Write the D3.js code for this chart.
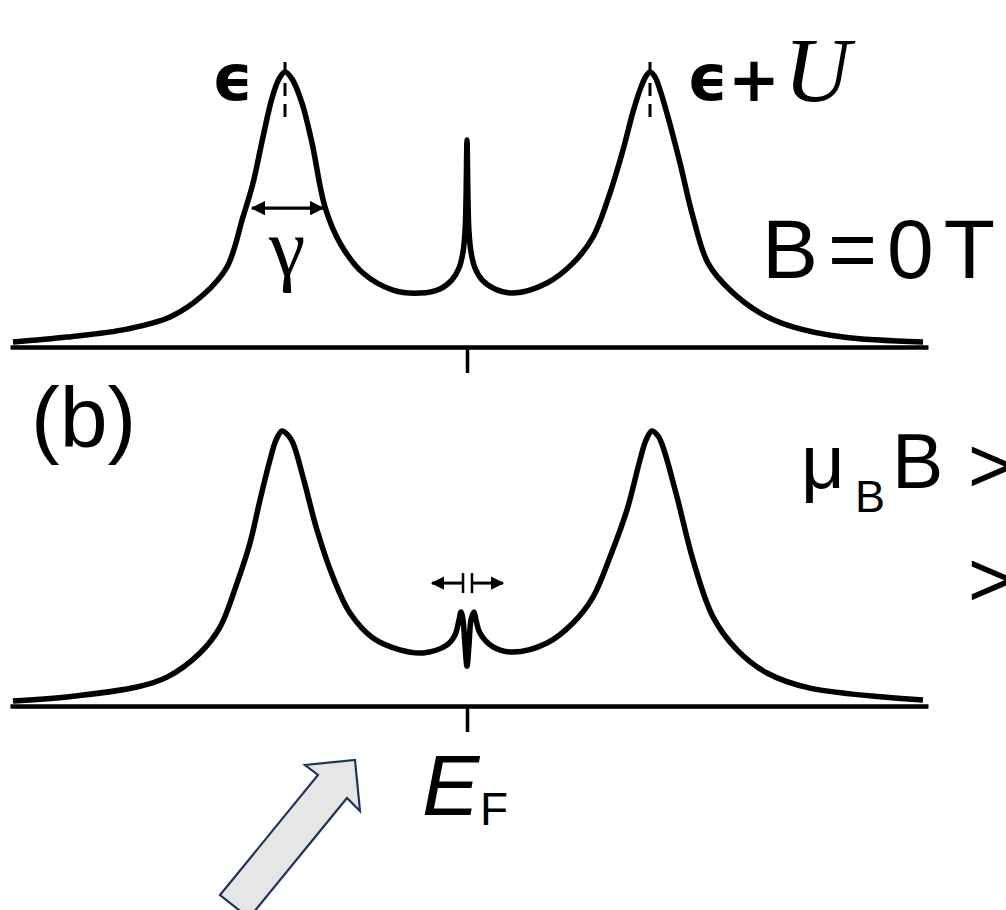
<!DOCTYPE html>
<html>
<head>
<meta charset="utf-8">
<script src="https://cdn.jsdelivr.net/npm/d3@7"></script>
<style>
  body { margin: 0; background: #fff; }
  svg { display: block; }
</style>
</head>
<body>
<div id="chart"></div>
<script>
// Anderson-impurity spectral function sketch: B = 0 (top) and Zeeman-split Kondo peak (bottom)

// energy (E_F = 0) and density of states
const energyTop = [-4.54,-4.00,-3.40,-2.97,-2.64,-2.40,-2.24,-2.14,-2.04,-1.95,-1.88,-1.82,-1.75,-1.65,-1.55,-1.42,-1.27,-1.04,-0.74,-0.47,-0.27,-0.15,-0.08,-0.04,-0.02,-0.01,0.00,0.01,0.02,0.04,0.08,0.15,0.28,0.46,0.80,1.06,1.26,1.43,1.56,1.66,1.74,1.79,1.83,1.88,1.93,2.01,2.13,2.26,2.41,2.63,2.93,3.26,3.76,4.56];
const dosTop    = [0.018,0.036,0.065,0.109,0.189,0.291,0.473,0.596,0.764,0.905,0.975,1.000,0.975,0.887,0.742,0.509,0.378,0.269,0.207,0.196,0.211,0.244,0.287,0.345,0.418,0.535,0.753,0.535,0.418,0.345,0.287,0.244,0.211,0.196,0.233,0.305,0.400,0.560,0.716,0.855,0.945,0.985,1.000,0.982,0.935,0.836,0.669,0.473,0.305,0.207,0.124,0.073,0.036,0.018];

const energyBottom = [-4.54,-4.00,-3.30,-3.00,-2.67,-2.47,-2.30,-2.17,-2.07,-1.97,-1.91,-1.85,-1.79,-1.74,-1.64,-1.50,-1.34,-1.17,-0.94,-0.67,-0.44,-0.20,-0.12,-0.08,-0.06,-0.04,-0.02,0.00,0.02,0.04,0.07,0.09,0.13,0.26,0.46,0.80,1.06,1.26,1.43,1.60,1.73,1.79,1.85,1.91,1.96,2.10,2.26,2.46,2.70,3.00,3.43,4.56];
const dosBottom    = [0.018,0.033,0.069,0.105,0.193,0.287,0.447,0.593,0.749,0.895,0.967,1.000,0.985,0.956,0.833,0.640,0.469,0.338,0.247,0.204,0.193,0.222,0.258,0.313,0.342,0.313,0.222,0.145,0.222,0.313,0.342,0.313,0.265,0.215,0.196,0.229,0.302,0.396,0.542,0.713,0.895,0.967,1.000,0.982,0.942,0.760,0.531,0.324,0.204,0.120,0.065,0.022];

// marked levels
const levelEps = -1.82;
const levelEpsU = 1.83;
const gammaSpan = [-2.17, -1.42];
const gammaDos = 0.505;
const zeemanBars = [-0.04, 0.05];
const zeemanTips = [-0.35, 0.36];
const zeemanDos = 0.447;

const W = 1006, H = 910;
const svg = d3.select('#chart').append('svg').attr('width', W).attr('height', H);
svg.append('rect').attr('width', W).attr('height', H).attr('fill', '#fff');

const x = d3.scaleLinear().domain([-4.57, 4.61]).range([10, 928]);
const yTop = d3.scaleLinear().domain([0, 1]).range([347, 72]);
const yBot = d3.scaleLinear().domain([0, 1]).range([706, 431]);

function panel(energy, dos, y){
  const g = svg.append('g');
  const axis = d3.axisBottom(x).tickValues([0]).tickSize(26).tickSizeOuter(0).tickFormat('');
  const ax = g.append('g').attr('transform', `translate(0,${y(0)})`).call(axis);
  ax.select('.domain').attr('stroke', '#000').attr('stroke-width', 4.5);
  ax.selectAll('.tick line').attr('stroke', '#000').attr('stroke-width', 3.5);

  const pts = energy.map((e, i) => [e, dos[i]]);
  const line = d3.line().x(d => x(d[0])).y(d => y(d[1])).curve(d3.curveCatmullRom.alpha(0.5));
  g.append('path').datum(pts).attr('d', line)
    .attr('fill', 'none').attr('stroke', '#000').attr('stroke-width', 5.5)
    .attr('stroke-linejoin', 'round').attr('stroke-linecap', 'butt');
  return g;
}

panel(energyTop, dosTop, yTop);
panel(energyBottom, dosBottom, yBot);

// arrowhead
const defs = svg.append('defs');
defs.append('marker').attr('id', 'head').attr('viewBox', '0 0 10 10')
  .attr('refX', 9).attr('refY', 5).attr('markerWidth', 4.6).attr('markerHeight', 4.6)
  .attr('markerUnits', 'strokeWidth').attr('orient', 'auto-start-reverse')
  .append('path').attr('d', 'M0,0L10,5L0,10Z').attr('fill', '#000');

// dashed lines at epsilon and epsilon+U
[levelEps, levelEpsU].forEach(e => {
  svg.append('line').attr('x1', x(e)).attr('x2', x(e)).attr('y1', 62).attr('y2', 117)
    .attr('stroke', '#000').attr('stroke-width', 3).attr('stroke-dasharray', '13,8');
});

// gamma width arrow
svg.append('line')
  .attr('x1', x(gammaSpan[0]) + 2).attr('x2', x(gammaSpan[1]) - 2)
  .attr('y1', yTop(gammaDos)).attr('y2', yTop(gammaDos))
  .attr('stroke', '#000').attr('stroke-width', 3.2)
  .attr('marker-start', 'url(#head)').attr('marker-end', 'url(#head)');

// Zeeman splitting arrows
zeemanBars.forEach((b, i) => {
  const yy = yBot(zeemanDos);
  svg.append('line').attr('x1', x(b)).attr('x2', x(b)).attr('y1', yy - 10).attr('y2', yy + 10)
    .attr('stroke', '#000').attr('stroke-width', 2.5);
  svg.append('line').attr('x1', x(b)).attr('x2', x(zeemanTips[i]))
    .attr('y1', yy).attr('y2', yy)
    .attr('stroke', '#000').attr('stroke-width', 3)
    .attr('marker-end', 'url(#head)');
});

// labels
const sans = 'Liberation Sans, Arial, sans-serif';
const serif = 'Liberation Serif, Times New Roman, serif';
function txt(s, px, py, size, opts = {}){
  return svg.append('text').attr('x', px).attr('y', py)
    .attr('font-family', opts.family || sans).attr('font-size', size)
    .attr('font-style', opts.italic ? 'italic' : 'normal')
    .attr('font-weight', opts.bold ? 'bold' : 'normal')
    .attr('text-anchor', opts.anchor || 'start')
    .attr('fill', '#000').text(s);
}

txt('\u03F5', 212, 100, 64, {family: 'DejaVu Sans', bold: true});
txt('\u03F5', 687, 100, 64, {family: 'DejaVu Sans', bold: true});
txt('+', 728, 101, 62, {family: 'DejaVu Sans', bold: true});
txt('U', 784, 101, 92, {family: serif, italic: true});
txt('\u03B3', 287, 275, 82, {family: serif, anchor: 'middle'});

// B = 0 T with a little extra spacing between glyphs
const b0 = svg.append('text').attr('x', 762).attr('y', 278)
  .attr('font-family', sans).attr('font-size', 84).attr('fill', '#000');
['B', '=', '0', 'T'].forEach((c, i) => b0.append('tspan').attr('dx', i ? 10 : 0).text(c));

txt('(b)', 31, 447, 86);

txt('\u03BC', 801, 488, 76);
txt('B', 855, 512, 45);
txt('B', 892, 488, 77);
txt('>', 968, 492, 77);
txt('>', 968, 606, 77);

txt('E', 422, 815, 86, {italic: true});
txt('F', 480, 825, 46);

// big block arrow at the bottom
const blockArrow = [[220,895],[318,775],[305,765],[355,760],[360,811],[347,798],[249,918]];
svg.append('path')
  .attr('d', d3.line()(blockArrow) + 'Z')
  .attr('fill', '#e6e6e6').attr('stroke', '#1f3558').attr('stroke-width', 2.2)
  .attr('stroke-linejoin', 'miter');
</script>
</body>
</html>
